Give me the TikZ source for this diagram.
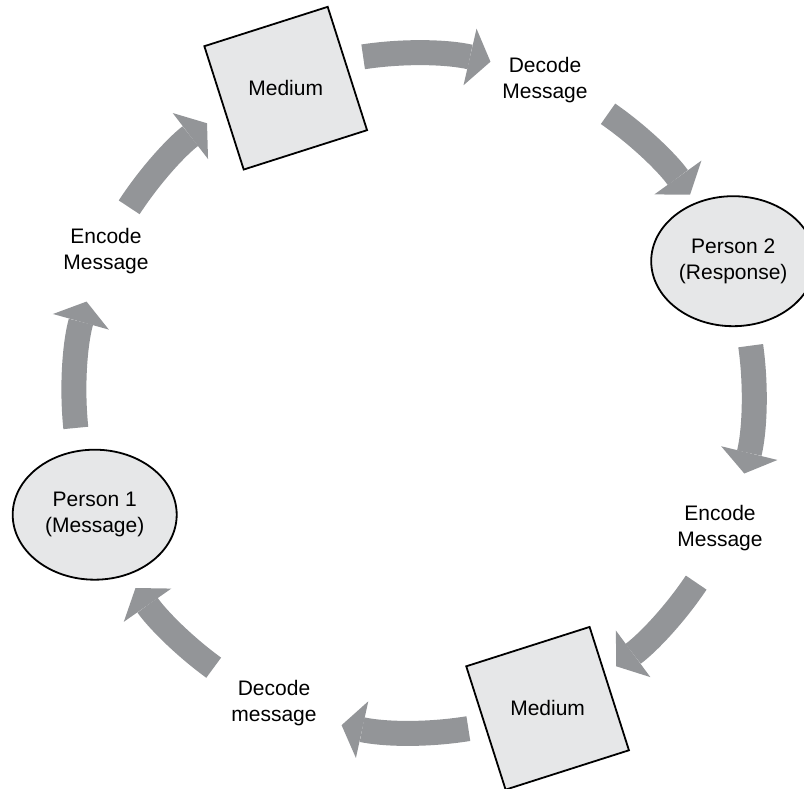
\documentclass[tikz,border=0pt]{standalone}
\usepackage{fontspec}
\setmainfont{Liberation Sans}
\usetikzlibrary{arrows.meta,shapes.geometric,calc}
\definecolor{arrowgray}{HTML}{939598}
\definecolor{shapefill}{HTML}{E6E7E8}
\begin{document}
\begin{tikzpicture}[x=1pt,y=1pt,
  every node/.style={font=\fontsize{21}{25.5}\selectfont, align=center, text=black},
  medium/.style={regular polygon, regular polygon sides=4, shape border rotate=17.7,
    draw=black, line width=1.8pt, fill=shapefill, minimum size=183.1pt, inner sep=0pt},
  person/.style={ellipse, draw=black, line width=1.8pt, fill=shapefill,
    minimum width=164pt, minimum height=130pt, inner sep=0pt},
  flow/.style={draw=arrowgray, line width=25pt, looseness=0.86,
    -{Triangle[width=58pt,length=21pt,line width=0pt]}}]
\path[use as bounding box] (0,0) rectangle (804,789);
\coordinate (O) at (414,396);
% arrow end points on the big circle
\coordinate (a1) at ($(O)+(185.9:340)$); \coordinate (a2) at ($(O)+(164.4:340)$);
\coordinate (h1) at ($(O)+(146.9:340)$); \coordinate (h2) at ($(O)+(127.5:340)$);
\coordinate (b1) at ($(O)+(98.6:340)$);  \coordinate (b2) at ($(O)+(77.0:340)$);
\coordinate (c1) at ($(O)+(55.2:340)$);  \coordinate (c2) at ($(O)+(35.7:340)$);
\coordinate (d1) at ($(O)+(8.0:340)$);   \coordinate (d2) at ($(O)+(-13.7:340)$);
\coordinate (e1) at ($(O)+(-33.9:340)$); \coordinate (e2) at ($(O)+(-53.5:340)$);
\coordinate (f1) at ($(O)+(-80.8:340)$); \coordinate (f2) at ($(O)+(-102.3:340)$);
\coordinate (g1) at ($(O)+(-126.1:340)$);\coordinate (g2) at ($(O)+(-145.0:340)$);
% arrows
\draw[flow] (a1) to[bend left=10.75] (a2);
\draw[flow] (h1) to[bend left=9.7] (h2);
\draw[flow] (b1) to[bend left=10.8] (b2);
\draw[flow] (c1) to[bend left=9.75] (c2);
\draw[flow] (d1) to[bend left=10.85] (d2);
\draw[flow] (e1) to[bend left=9.8] (e2);
\draw[flow] (f1) to[bend left=10.75] (f2);
\draw[flow] (g1) to[bend left=9.45] (g2);
% nodes
\node[medium] (med1) at (285.7,700.8) {Medium};
\node[medium] (med2) at (547.6,80.7) {Medium};
\node[person] (p1) at (94.7,274.3) {Person 1\\(Message)};
\node[person] (p2) at (733.2,527.8) {Person 2\\(Response)};
\node (dec1) at (545,709) {Decode\\Message};
\node (enc1) at (106,538) {Encode\\Message};
\node (enc2) at (720,261) {Encode\\Message};
\node (dec2) at (274,86) {Decode\\message};
\end{tikzpicture}
\end{document}
